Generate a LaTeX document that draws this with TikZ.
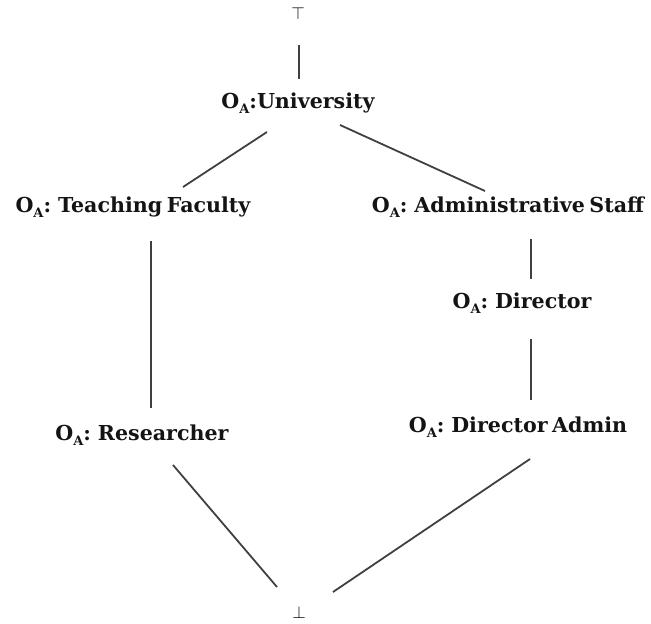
\documentclass[tikz,border=0pt]{standalone}
\usepackage{fontspec}
\setmainfont{DejaVu Serif}
\newcommand{\OA}{O\raisebox{-0.5ex}{\fontsize{13}{13}\selectfont A}}
\newcommand{\lblfont}{\bfseries\fontsize{20.6}{24}\selectfont\spaceskip=0.22em plus 0.05em\relax}
\begin{document}
\begin{tikzpicture}[x=1pt,y=-1pt,
  lbl/.style={font=\lblfont, inner sep=0pt, text=black!92},
  sym/.style={font=\fontsize{16}{18}\selectfont, inner sep=0pt, text=black},
  edge/.style={draw=black!75, line width=1.8pt}]
\useasboundingbox (0,0) rectangle (651,624);
\node[sym] (top) at (298,13) {$\top$};
\node[lbl] (uni) at (298,103) {\OA:University};
\node[lbl] (teach) at (133,207) {\OA: Teaching Faculty};
\node[lbl] (admin) at (508,207) {\OA: Administrative Staff};
\node[lbl] (dir) at (522,303) {\OA: Director};
\node[lbl] (da) at (518,427) {\OA: Director Admin};
\node[lbl] (res) at (142,435) {\OA: Researcher};
\node[sym] (bot) at (299,612) {$\bot$};
\draw[edge] ([shift={(1,32)}]top.center) -- ([shift={(1,-24)}]uni.center);
\draw[edge] ([shift={(-31,29)}]uni.center) -- ([shift={(50,-20)}]teach.center);
\draw[edge] ([shift={(42,22)}]uni.center) -- ([shift={(-23,-16)}]admin.center);
\draw[edge] ([shift={(18,34)}]teach.center) -- ([shift={(9,-27)}]res.center);
\draw[edge] ([shift={(23,32)}]admin.center) -- ([shift={(9,-24)}]dir.center);
\draw[edge] ([shift={(9,36)}]dir.center) -- ([shift={(13,-27)}]da.center);
\draw[edge] ([shift={(31,30)}]res.center) -- ([shift={(-22,-25)}]bot.center);
\draw[edge] ([shift={(12,32)}]da.center) -- ([shift={(34,-20)}]bot.center);
\end{tikzpicture}
\end{document}
